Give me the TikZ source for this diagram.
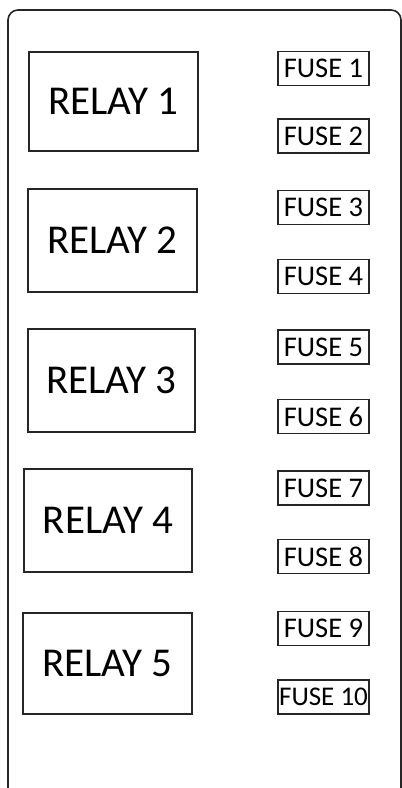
\documentclass[tikz,border=0pt]{standalone}
\usepackage{fontspec}
\setmainfont{Carlito}
\begin{document}
\begin{tikzpicture}[x=1pt,y=-1pt,
  relaybox/.style={draw=black!85, line width=1.6pt, inner sep=0pt, font=\fontsize{41}{41}\selectfont},
  fusebox/.style={draw=black!85, line width=1.4pt, inner sep=0pt, minimum width=91pt, minimum height=34pt, font=\fontsize{28.5}{28.5}\selectfont},
  frame/.style={draw=black!85, line width=1.6pt, rounded corners=10pt}]
\useasboundingbox (0,0) rectangle (402,788);
\clip (0,0) rectangle (402,788);
\fill[white] (0,0) rectangle (402,788);
\draw[frame] (8,10) rectangle (401,830);
% relays
\node[relaybox, minimum width=169pt, minimum height=99pt] (r1) at (113.5,101.5) {RELAY 1};
\node[relaybox, minimum width=169pt, minimum height=103pt] (r2) at (112.5,240.5) {RELAY 2};
\node[relaybox, minimum width=167pt, minimum height=103pt] (r3) at (111.5,380.5) {RELAY 3};
\node[relaybox, minimum width=168pt, minimum height=103pt] (r4) at (108,520.5) {RELAY 4};
\node[relaybox, minimum width=169pt, minimum height=101pt] (r5) at (107.5,663.5) {RELAY 5};
% fuses
\node[fusebox] (f1) at (323.5,68.5) {FUSE 1};
\node[fusebox] (f2) at (323.5,136) {FUSE 2};
\node[fusebox] (f3) at (323.5,207.5) {FUSE 3};
\node[fusebox] (f4) at (323.5,276.5) {FUSE 4};
\node[fusebox] (f5) at (323.5,347) {FUSE 5};
\node[fusebox] (f6) at (323.5,416.5) {FUSE 6};
\node[fusebox] (f7) at (323.5,488) {FUSE 7};
\node[fusebox] (f8) at (323.5,556.5) {FUSE 8};
\node[fusebox] (f9) at (323.5,628.5) {FUSE 9};
\node[fusebox, font=\fontsize{27}{27}\selectfont] (f10) at (323.5,697) {\makebox[0pt]{FUSE 10}};
\end{tikzpicture}
\end{document}
